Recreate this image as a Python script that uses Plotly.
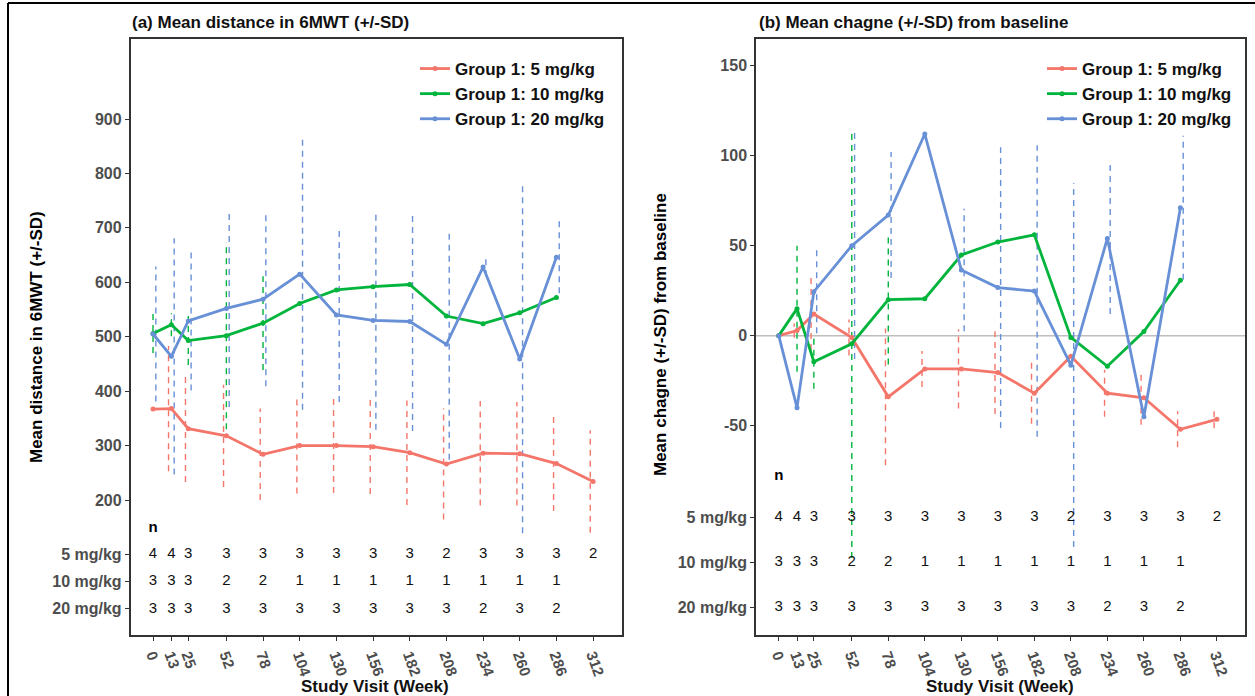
import plotly.graph_objects as go

# Study visits (weeks)
weeks = [0, 13, 25, 52, 78, 104, 130, 156, 182, 208, 234, 260, 286, 312]

group_names = ["Group 1: 5 mg/kg", "Group 1: 10 mg/kg", "Group 1: 20 mg/kg"]
row_labels = ["5 mg/kg", "10 mg/kg", "20 mg/kg"]

# (a) mean 6MWT distance and SD by dose group
dist_5 = [367, 368, 331, 318, 284, 300, 300, 298, 287, 266, 286, 285, 267, 234]
dist_10 = [506, 522, 493, 502, 525, 561, 586, 592, 596, 538, 524, 544, 572, None]
dist_20 = [505, 464, 529, 552, 569, 615, 540, 530, 528, 486, 628, 459, 646, None]

dist_sd_5 = [None, 115, 98, 94, 84, 88, 87, 87, 96, 102, 96, 95, 87, 94]
dist_sd_10 = [36, 21, 45, 172, 86, None, None, None, None, None, None, None, None, None]
dist_sd_20 = [124, 217, 128, 181, 160, 249, 160, 201, 201, 212, 17, 320, 66, None]

# (b) mean change from baseline and SD by dose group
chg_5 = [0, 2.8, 12, -1, -34, -18.5, -18.5, -20.5, -32, -11.5, -32, -34.5, -52, -46.5]
chg_10 = [0, 15, -14.5, -4.5, 20, 20.5, 44.8, 52, 56, -1, -17, 2.3, 30.8, None]
chg_20 = [0, -40, 24.4, 50, 67, 112, 36.5, 26.7, 24.8, -16.4, 54, -45, 71, None]

chg_sd_5 = [None, 4, 20, 10, 38, 10, 22, 23, 17, 3, 13, 15, 10, 5]
chg_sd_10 = [None, 35, 15, 119, 36, None, None, None, None, None, None, None, None, None]
chg_sd_20 = [None, None, 23, 63, 35, None, 34, 78, 81, 101, 42, None, 40, None]

# number of subjects per visit
n_5 = [4, 4, 3, 3, 3, 3, 3, 3, 3, 2, 3, 3, 3, 2]
n_10 = [3, 3, 3, 2, 2, 1, 1, 1, 1, 1, 1, 1, 1, None]
n_20 = [3, 3, 3, 3, 3, 3, 3, 3, 3, 3, 2, 3, 2, None]

COLORS = ["#F4766B", "#00B43C", "#6890D6"]
DODGE = [-2.0, 0.0, 2.0]
FONT = "Liberation Sans, Arial, sans-serif"
W, H = 1255, 696

fig = go.Figure()


def sd_segments(xs, means, sds, offset):
    sx, sy = [], []
    for x, m, s in zip(xs, means, sds):
        if m is None or s is None:
            continue
        sx += [x + offset, x + offset, None]
        sy += [m - s, m + s, None]
    return sx, sy


panels = [
    dict(xa="x", ya="y", legend="legend",
         means=[dist_5, dist_10, dist_20], sds=[dist_sd_5, dist_sd_10, dist_sd_20],
         rows=[100, 50, 0], n_y=148),
    dict(xa="x2", ya="y2", legend="legend2",
         means=[chg_5, chg_10, chg_20], sds=[chg_sd_5, chg_sd_10, chg_sd_20],
         rows=[-101, -126, -151], n_y=-78),
]

counts = [n_5, n_10, n_20]

for p in panels:
    # SD bars (dashed)
    for g in range(3):
        sx, sy = sd_segments(weeks, p["means"][g], p["sds"][g], DODGE[g])
        fig.add_trace(go.Scatter(
            x=sx, y=sy, mode="lines", xaxis=p["xa"], yaxis=p["ya"],
            line=dict(color=COLORS[g], width=1.4, dash="6px,5px"),
            showlegend=False, hoverinfo="skip"))
    # mean lines
    for g in range(3):
        fig.add_trace(go.Scatter(
            x=weeks, y=p["means"][g], mode="lines+markers", name=group_names[g],
            xaxis=p["xa"], yaxis=p["ya"], legend=p["legend"],
            line=dict(color=COLORS[g], width=2.8),
            marker=dict(color=COLORS[g], size=5)))
    # subject counts table
    for g in range(3):
        xs = [w for w, c in zip(weeks, counts[g]) if c is not None]
        ts = [str(c) for c in counts[g] if c is not None]
        fig.add_trace(go.Scatter(
            x=xs, y=[p["rows"][g]] * len(xs), text=ts, mode="text",
            xaxis=p["xa"], yaxis=p["ya"], showlegend=False, hoverinfo="skip",
            textfont=dict(family=FONT, size=15, color="#111111")))
    fig.add_trace(go.Scatter(
        x=[0], y=[p["n_y"]], text=["n"], mode="text",
        xaxis=p["xa"], yaxis=p["ya"], showlegend=False, hoverinfo="skip",
        textfont=dict(family=FONT, size=15, color="#000000", weight="bold")))

# zero reference line for change from baseline
fig.add_shape(type="line", xref="x2 domain", yref="y2", x0=0, x1=1, y0=0, y1=0,
              line=dict(color="#BEBEBE", width=1.5), layer="below")

# outer frame
fig.add_shape(type="line", xref="paper", yref="paper", x0=8 / W, x1=1, y0=1 - 3 / H, y1=1 - 3 / H,
              line=dict(color="#000000", width=2))
fig.add_shape(type="line", xref="paper", yref="paper", x0=8 / W, x1=8 / W, y0=0, y1=1 - 3 / H,
              line=dict(color="#000000", width=2))

tick_font = dict(family=FONT, size=16, color="#4D4D4D", weight="bold")
axis_common = dict(showline=True, mirror=True, linecolor="#333333", linewidth=1.5,
                   ticks="outside", ticklen=4, tickcolor="#333333", tickwidth=1,
                   showgrid=False, zeroline=False, tickfont=tick_font)

x_common = dict(axis_common, tickvals=weeks, ticktext=[str(w) for w in weeks],
                tickangle=70, tickfont=dict(tick_font, size=15))

y_top, y_bot = 39, 635
ydom = [1 - y_bot / H, 1 - y_top / H]
legend_font = dict(family=FONT, size=17, color="#111111", weight="bold")

fig.update_layout(
    width=W, height=H, margin=dict(l=0, r=0, t=0, b=0),
    paper_bgcolor="white", plot_bgcolor="white",
    font=dict(family=FONT),
    xaxis=dict(x_common, domain=[130.6 / W, 622 / W], range=[-15.9, 332.5], anchor="y"),
    yaxis=dict(axis_common, domain=ydom, range=[-48, 1047], anchor="x",
               tickvals=[0, 50, 100, 200, 300, 400, 500, 600, 700, 800, 900],
               ticktext=["20 mg/kg", "10 mg/kg", "5 mg/kg", "200", "300", "400",
                         "500", "600", "700", "800", "900"]),
    xaxis2=dict(x_common, domain=[756 / W, 1245 / W], range=[-16.2, 332], anchor="y2"),
    yaxis2=dict(axis_common, domain=ydom, range=[-166.3, 164.8], anchor="x2",
                tickvals=[-151, -126, -101, -50, 0, 50, 100, 150],
                ticktext=["20 mg/kg", "10 mg/kg", "5 mg/kg", "-50", "0", "50", "100", "150"]),
    legend=dict(x=415 / W, y=1 - 51 / H, xanchor="left", yanchor="top",
                bgcolor="rgba(0,0,0,0)", font=legend_font),
    legend2=dict(x=1042 / W, y=1 - 51 / H, xanchor="left", yanchor="top",
                 bgcolor="rgba(0,0,0,0)", font=legend_font),
    showlegend=True,
)

title_font = dict(family=FONT, size=17, color="#111111", weight="bold")
annotations = [
    dict(text="(a) Mean distance in 6MWT (+/-SD)", x=130 / W, y=1 - 22 / H,
         xanchor="left", yanchor="middle", font=title_font),
    dict(text="(b) Mean chagne (+/-SD) from baseline", x=757 / W, y=1 - 22 / H,
         xanchor="left", yanchor="middle", font=title_font),
    dict(text="Mean distance in 6MWT (+/-SD)", x=36 / W, y=1 - 337 / H, textangle=-90,
         xanchor="center", yanchor="middle", font=dict(title_font, size=17, color="#000000")),
    dict(text="Mean chagne (+/-SD) from baseline", x=660 / W, y=1 - 335 / H, textangle=-90,
         xanchor="center", yanchor="middle", font=dict(title_font, size=17, color="#000000")),
    dict(text="Study Visit (Week)", x=375 / W, y=1 - 686 / H,
         xanchor="center", yanchor="middle", font=dict(title_font, size=17)),
    dict(text="Study Visit (Week)", x=1000 / W, y=1 - 686 / H,
         xanchor="center", yanchor="middle", font=dict(title_font, size=17)),
]
for a in annotations:
    a.update(xref="paper", yref="paper", showarrow=False)
fig.update_layout(annotations=annotations)

fig.write_html("out.html")
